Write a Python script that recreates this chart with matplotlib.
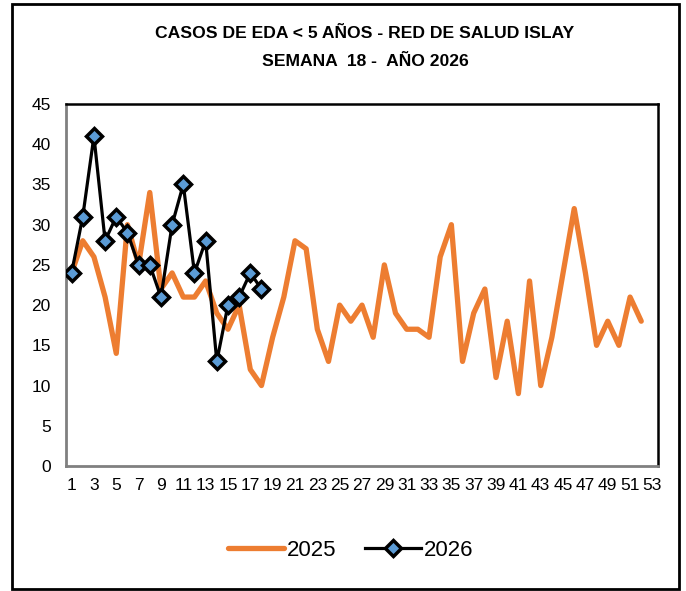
import numpy as np
import matplotlib
matplotlib.use('Agg')
import matplotlib.pyplot as plt
from matplotlib.patches import Rectangle

plt.rcParams['font.family'] = ['Liberation Sans', 'DejaVu Sans']

# Casos por semana epidemiologica
casos_2025 = [24, 28, 26, 21, 14, 30, 25, 34, 22, 24, 21, 21, 23, 19, 17, 20, 12, 10,
              16, 21, 28, 27, 17, 13, 20, 18, 20, 16, 25, 19, 17, 17, 16, 26, 30, 13,
              19, 22, 11, 18, 9, 23, 10, 16, 24, 32, 24, 15, 18, 15, 21, 18]
casos_2026 = [24, 31, 41, 28, 31, 29, 25, 25, 21, 30, 35, 24, 28, 13, 20, 21, 24, 22]
semanas_2025 = np.arange(1, len(casos_2025) + 1)
semanas_2026 = np.arange(1, len(casos_2026) + 1)
xticks = np.arange(1, 54, 2)

fig = plt.figure(figsize=(6.86, 5.91), dpi=100)
ax = fig.add_axes([66 / 686, 125 / 591, 592 / 686, 362 / 591])

ax.plot(semanas_2025, casos_2025, color='#ED7D31', lw=3.8, label='2025',
        solid_joinstyle='round', solid_capstyle='round', zorder=2)
ax.plot(semanas_2026, casos_2026, color='black', lw=2.3, label='2026',
        marker='D', markersize=8, markerfacecolor='#5B9BD5',
        markeredgecolor='black', markeredgewidth=2.5, zorder=3)

ax.set_xlim(0.5, 53.5)
ax.set_ylim(0, 45)
ax.set_yticks(np.arange(0, 46, 5))
ax.set_xticks(xticks)
ax.set_xticklabels([str(t) for t in xticks])
ax.tick_params(axis='both', length=0, labelsize=12.5)
ax.tick_params(axis='y', pad=11)
ax.tick_params(axis='x', pad=9)

ax.spines['top'].set_color('black')
ax.spines['right'].set_color('black')
ax.spines['top'].set_linewidth(1.8)
ax.spines['right'].set_linewidth(1.8)
ax.spines['left'].set_color('#808080')
ax.spines['bottom'].set_color('#808080')
ax.spines['left'].set_linewidth(2)
ax.spines['bottom'].set_linewidth(2)

fig.text(365 / 686, 1 - 34 / 591, 'CASOS DE EDA < 5 AÑOS - RED DE SALUD ISLAY',
         ha='center', va='center', fontsize=12.6, fontweight='bold')
fig.text(365 / 686, 1 - 61 / 591, 'SEMANA  18 -  AÑO 2026',
         ha='center', va='center', fontsize=12.6, fontweight='bold')

fig.legend(loc='center', bbox_to_anchor=(351 / 686, 1 - 550 / 591), ncol=2,
           frameon=False, fontsize=16, handlelength=2.5, handletextpad=0.15,
           columnspacing=1.3)

fig.patches.append(Rectangle((12 / 686, 2 / 591), 667 / 686, 585 / 591,
                             transform=fig.transFigure, fill=False,
                             edgecolor='black', lw=2))

fig.savefig('out.png', dpi=100)
